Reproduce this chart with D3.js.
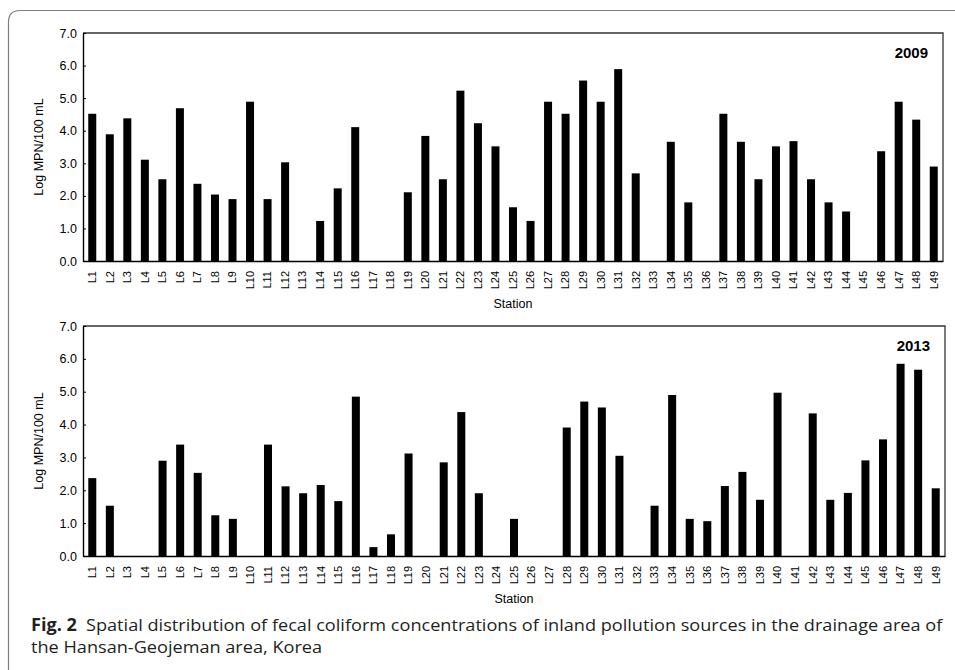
<!DOCTYPE html>
<html>
<head>
  <meta charset="utf-8">
  <title>Fecal coliform by station</title>
<script src="https://d3js.org/d3.v7.min.js"></script>
  <style>
    body { margin: 0; background: #fff; }
    svg { display: block; }
    .tick text { font: 12.5px "Liberation Sans", Arial, sans-serif; fill: #000; }
    .xax .tick text { font-size: 11px; }
    .axis-title { font: 12.5px "Liberation Sans", Arial, sans-serif; }
    .year { font: bold 15px "Liberation Sans", Arial, sans-serif; }
    .caption { font: 17px "Open Sans", "Noto Sans", sans-serif; fill: #231f20; }
  </style>
</head>
<body>
  <script>
    // stations L1..L49
    const stations = d3.range(1, 50).map(i => "L" + i);

    // Log MPN/100 mL (0 = no bar)
    const values2009 = [
      4.52, 3.89, 4.38, 3.11, 2.51, 4.69, 2.37, 2.04, 1.90, 4.89,
      1.90, 3.03, 0, 1.23, 2.23, 4.11, 0, 0, 2.11, 3.84,
      2.51, 5.23, 4.23, 3.52, 1.65, 1.23, 4.89, 4.52, 5.54, 4.89,
      5.89, 2.69, 0, 3.66, 1.80, 0, 4.52, 3.66, 2.51, 3.52,
      3.68, 2.51, 1.80, 1.52, 0, 3.37, 4.89, 4.34, 2.90
    ];
    const values2013 = [
      2.37, 1.53, 0, 0, 2.90, 3.39, 2.53, 1.24, 1.13, 0,
      3.39, 2.12, 1.91, 2.16, 1.67, 4.85, 0.27, 0.66, 3.12, 0,
      2.85, 4.38, 1.91, 0, 1.13, 0, 0, 3.91, 4.70, 4.52,
      3.05, 0, 1.53, 4.90, 1.13, 1.06, 2.13, 2.56, 1.71, 4.97,
      0, 4.34, 1.71, 1.92, 2.91, 3.55, 5.85, 5.67, 2.06
    ];
    const yTicks = [0, 1, 2, 3, 4, 5, 6, 7];

    const W = 955, H = 670;
    const svg = d3.select("body").append("svg")
        .attr("width", W)
        .attr("height", H);

    // figure frame with rounded top-left corner
    svg.append("path")
        .attr("d", "M8.5,672 L8.5,22 Q8.5,10.5 20,10.5 L960,10.5")
        .attr("fill", "none")
        .attr("stroke", "#7d7d7d")
        .attr("stroke-width", 1.2);

    function panel(values, year, box) {
      const x = d3.scaleBand()
          .domain(stations)
          .range([box.left, box.right])
          .paddingInner(0.544)
          .paddingOuter(0.3);
      const y = d3.scaleLinear()
          .domain([0, 7])
          .range([box.bottom, box.top]);

      const g = svg.append("g");

      // top and right frame lines
      g.append("path")
          .attr("d", `M${box.left},${box.top}H${box.right}V${box.bottom}`)
          .attr("fill", "none")
          .attr("stroke", "#333")
          .attr("stroke-width", 1.3);

      g.selectAll(".bar")
          .data(values)
          .enter().append("rect")
          .attr("class", "bar")
          .attr("x", (d, i) => x(stations[i]))
          .attr("width", x.bandwidth())
          .attr("y", d => y(d))
          .attr("height", d => y(0) - y(d))
          .attr("fill", "#000");

      const yAxis = g.append("g")
          .attr("transform", `translate(${box.left},0)`)
          .call(d3.axisLeft(y)
              .tickValues(yTicks)
              .tickFormat(d3.format(".1f"))
              .tickSizeInner(-3)
              .tickSizeOuter(0)
              .tickPadding(6));
      yAxis.select(".domain").attr("stroke-width", 1.4);

      const xAxis = g.append("g")
          .attr("class", "xax")
          .attr("transform", `translate(0,${box.bottom})`)
          .call(d3.axisBottom(x).tickSize(0).tickSizeOuter(0));
      xAxis.select(".domain").attr("stroke-width", 1.6);
      xAxis.selectAll(".tick text")
          .attr("transform", "rotate(-90)")
          .attr("x", -10)
          .attr("y", 0)
          .attr("dy", "0.35em")
          .style("text-anchor", "end");

      g.append("text")
          .attr("class", "axis-title")
          .attr("transform", `translate(43,${(box.top + box.bottom) / 2}) rotate(-90)`)
          .attr("text-anchor", "middle")
          .text("Log MPN/100 mL");

      g.append("text")
          .attr("class", "axis-title")
          .attr("x", (box.left + box.right) / 2)
          .attr("y", box.bottom + 47)
          .attr("text-anchor", "middle")
          .text("Station");

      g.append("text")
          .attr("class", "year")
          .attr("x", box.right - 15)
          .attr("y", box.top + 25)
          .attr("text-anchor", "end")
          .text(year);
    }

    panel(values2009, "2009", { left: 83, right: 943, top: 33, bottom: 261 });
    panel(values2013, "2013", { left: 83, right: 945, top: 326, bottom: 556 });

    // caption, squeezed to the width of the original narrow face
    const cap1 = svg.append("text").attr("class", "caption").attr("y", 631);
    cap1.append("tspan").attr("font-weight", "bold").text("Fig. 2");
    cap1.append("tspan").text("\u2002Spatial distribution of fecal coliform concentrations of inland pollution sources in the drainage area of");
    const cap2 = svg.append("text").attr("class", "caption").attr("y", 653)
        .text("the Hansan-Geojeman area, Korea");

    const k1 = 912 / cap1.node().getComputedTextLength();
    cap1.attr("transform", `translate(31,0) scale(${k1},1)`);
    cap2.attr("transform", `translate(31,0) scale(${k1},1)`);
  </script>
</body>
</html>
